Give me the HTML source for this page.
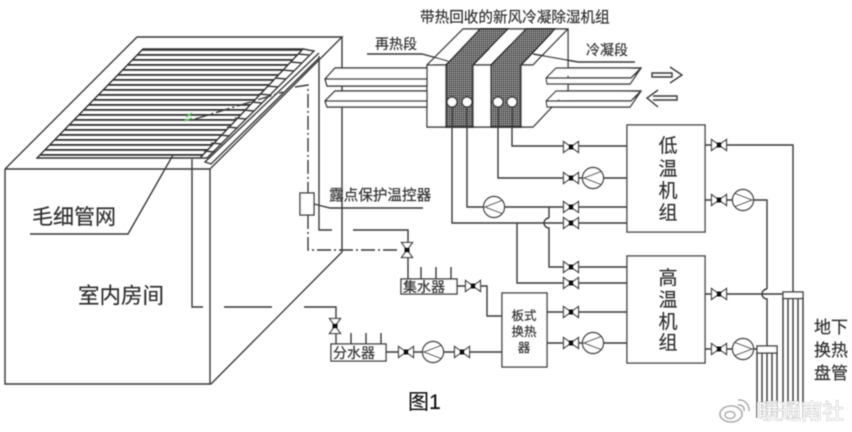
<!DOCTYPE html>
<html><head><meta charset="utf-8">
<style>
html,body{margin:0;padding:0;background:#fff}
svg{display:block}
text{font-family:"Liberation Sans","Noto Sans CJK SC",sans-serif;fill:#333;stroke:#333;stroke-width:.2}
</style></head><body>
<svg width="852" height="432" viewBox="0 0 852 432" xmlns="http://www.w3.org/2000/svg">
<defs>
<filter id="b" x="-5%" y="-5%" width="110%" height="110%"><feGaussianBlur stdDeviation="0.4"/></filter>
<pattern id="st" width="10" height="5" patternUnits="userSpaceOnUse" y="49"><rect width="10" height="1.8" fill="#333"/></pattern>
<pattern id="mesh" width="2" height="2" patternUnits="userSpaceOnUse"><rect width="2" height="2" fill="#555"/><rect width="1" height="1" fill="#bbb"/><rect x="1" y="1" width="1" height="1" fill="#111"/></pattern>
<g id="v"><path d="M-7.5,-5.5V5.5L7.5,-5.5V5.5Z" fill="#fff" stroke="#444" stroke-width="1.3"/><rect x="-2.5" y="-2.5" width="5" height="5" fill="#111"/></g>
<g id="vv"><path d="M-5.5,-7.5H5.5L-5.5,7.5H5.5Z" fill="#fff" stroke="#444" stroke-width="1.3"/><rect x="-2.5" y="-2.5" width="5" height="5" fill="#111"/></g>
<g id="pr"><circle r="10.5" fill="#fff" stroke="#444" stroke-width="1.4"/><path d="M-8,-6.5L9,0L-8,6.5" fill="none" stroke="#444" stroke-width="1.2"/></g>
<g id="pl"><circle r="10.5" fill="#fff" stroke="#444" stroke-width="1.4"/><path d="M8,-6.5L-9,0L8,6.5" fill="none" stroke="#444" stroke-width="1.2"/></g>
</defs>
<rect width="852" height="432" fill="#fff"/>
<g filter="url(#b)" fill="none" stroke="#3a3a3a" stroke-width="1.4">
<!-- room -->
<path d="M5,169H210V384M5,169V384H211M5,169L137,37H342L210,169M342,37V252L211,384"/>
<path d="M143,49H303L200,158H37Z" fill="url(#st)" stroke="#333"/>
<path d="M303,49L314,51L207,158L200,158" />
<path d="M298,54L309,55M291,62L302,63M283,70L294,71M275,78L286,79M267,86L278,87M259,94L270,95M251,102L262,103M243,110L254,111M235,118L246,119M227,127L238,128M219,135L230,136M211,143L222,144M204,151L215,152"/>
<path d="M319,53L205,162L211,164L319,58"/>
<path d="M192,159V307H203M224,307H272M304,307H336V322"/>
<path d="M319,56V230H332M353,230H408V243M336,333V344"/>
<path d="M408,257V279"/>
<path d="M421,267V279M436,267V279M451,267V279M351,333V344M366,333V344M381,333V344"/>
<path stroke-dasharray="14,3,2,3" d="M195,119L283,92M295,87L308,85V193M308,215V250H400"/>
<rect x="300" y="193" width="14" height="22" fill="#fff"/>
<path d="M314,204L330,208H423"/>
<path d="M173,155L128,234H30"/>
<path d="M186,117l6,-4M184,121l8,-3" stroke="#5fbf5f"/>
<!-- collector -->
<rect x="401" y="279" width="56" height="15" fill="#fff"/>
<rect x="331" y="344" width="55" height="17" fill="#fff"/>
<path d="M457,286H487V316H502M386,352H502"/>
<rect x="502" y="293" width="45" height="74" fill="#fff"/>
<!-- AHU -->
<path d="M427,65L463,29H568V90L533,127H427ZM427,65H533L568,29" fill="#fff"/>
<path d="M446,65L480,29H508L473,65V127H446Z" fill="url(#mesh)" stroke="#222"/>
<path d="M491,65L526,29H555L521,65V127H491Z" fill="url(#mesh)" stroke="#222"/>
<!-- ducts -->
<path d="M335,68H427V86H327L325,79ZM325,79H427" fill="#fff"/>
<path d="M335,91H427V107H327L325,101ZM325,101H427" fill="#fff"/>
<path d="M556,68H641L630,84H547L546,78ZM546,78H631L641,68" fill="#fff"/>
<path d="M556,91H641L630,107H547L546,101ZM546,101H631L641,91" fill="#fff"/>
<path d="M652,73H672V77H652ZM670,67L682,75L670,83"/>
<path d="M658,90L647,98L658,107M653,96H677V100H653"/>
<path d="M367,54H422L448,61M533,54L578,62H635"/>
<!-- pipes -->
<path d="M452,107V223H627M467,107V207H627M498,107V178H627M512,107V146H627"/>
<path d="M517,223V283H627M549,207V218"/>
<path d="M549,218A5,5 0 0 0 549,228V267H627"/>
<path d="M547,312H627M547,343H627"/>
<rect x="627" y="125" width="78" height="107" fill="#fff"/>
<rect x="627" y="256" width="78" height="107" fill="#fff"/>
<path d="M705,145H793V292M705,200H767V289"/>
<path d="M767,289A5,5 0 0 0 767,299V346M705,294H783M705,349H757"/>
<rect x="783" y="292" width="20" height="6.5" fill="#fff"/>
<rect x="757" y="346" width="20" height="7" fill="#fff"/>
<path d="M783,298V418M788,298V418M793,298V418M798,298V418M803,298V418"/>
<path d="M757,353V418M762,353V418M767,353V418M772,353V418M777,353V418"/>
<circle cx="452" cy="102" r="5" fill="#fff"/><circle cx="467" cy="102" r="5" fill="#fff"/><circle cx="498" cy="102" r="5" fill="#fff"/><circle cx="512" cy="102" r="5" fill="#fff"/>
<g stroke="none">
<use href="#vv" x="407" y="250"/><use href="#vv" x="335" y="326"/>
<use href="#v" x="473" y="286"/><use href="#v" x="406" y="352"/><use href="#v" x="462" y="352"/>
<use href="#v" x="571" y="147"/><use href="#v" x="571" y="178"/><use href="#v" x="571" y="207"/><use href="#v" x="571" y="223"/>
<use href="#v" x="571" y="267"/><use href="#v" x="571" y="283"/><use href="#v" x="571" y="312"/><use href="#v" x="571" y="343"/>
<use href="#v" x="719" y="145"/><use href="#v" x="719" y="200"/><use href="#v" x="719" y="294"/><use href="#v" x="719" y="349"/>
<use href="#pl" x="433" y="352"/><use href="#pl" x="494" y="207"/><use href="#pl" x="593" y="178"/><use href="#pl" x="593" y="343"/>
<use href="#pr" x="743" y="200"/><use href="#pr" x="743" y="349"/>
</g>
</g>
<g filter="url(#b)">
<text x="420" y="22" font-size="14.6">带热回收的新风冷凝除湿机组</text>
<text x="375" y="49" font-size="14">再热段</text>
<text x="586" y="55" font-size="14">冷凝段</text>
<text x="329" y="200" font-size="14.6">露点保护温控器</text>
<text x="32" y="224" font-size="21">毛细管网</text>
<text x="78" y="303" font-size="21.5">室内房间</text>
<text x="403" y="292" font-size="14">集水器</text>
<text x="333" y="358" font-size="14">分水器</text>
<g font-size="12.5" text-anchor="middle"><text x="524" y="320">板式</text><text x="524" y="336">换热</text><text x="524" y="352">器</text></g>
<g font-size="19" text-anchor="middle">
<text x="668" y="152">低</text><text x="668" y="175">温</text><text x="668" y="197">机</text><text x="668" y="219">组</text>
<text x="668" y="284">高</text><text x="668" y="306">温</text><text x="668" y="328">机</text><text x="668" y="349">组</text>
</g>
<g font-size="17" text-anchor="middle"><text x="831" y="333">地下</text><text x="831" y="356">换热</text><text x="831" y="379">盘管</text></g>
<text x="408" y="409" font-size="21" style="fill:#111">图1</text>
</g>
<g filter="url(#b)">
<rect x="757" y="402" width="90" height="20" fill="#fff" opacity=".75"/>
<text x="758" y="419" font-size="21.5" style="fill:#fff;stroke:#999;stroke-width:.7;paint-order:stroke">暖通南社</text>
<ellipse cx="731" cy="414" rx="11" ry="8" fill="#fff" stroke="#aaa" stroke-width="1.6"/>
<ellipse cx="730" cy="415" rx="5" ry="3.5" fill="none" stroke="#aaa" stroke-width="1.5"/>
<path d="M738,400a10,10 0 0 1 11,11M738,405a5,5 0 0 1 6,6" fill="none" stroke="#aaa" stroke-width="1.5"/>
</g>
</svg>
</body></html>
